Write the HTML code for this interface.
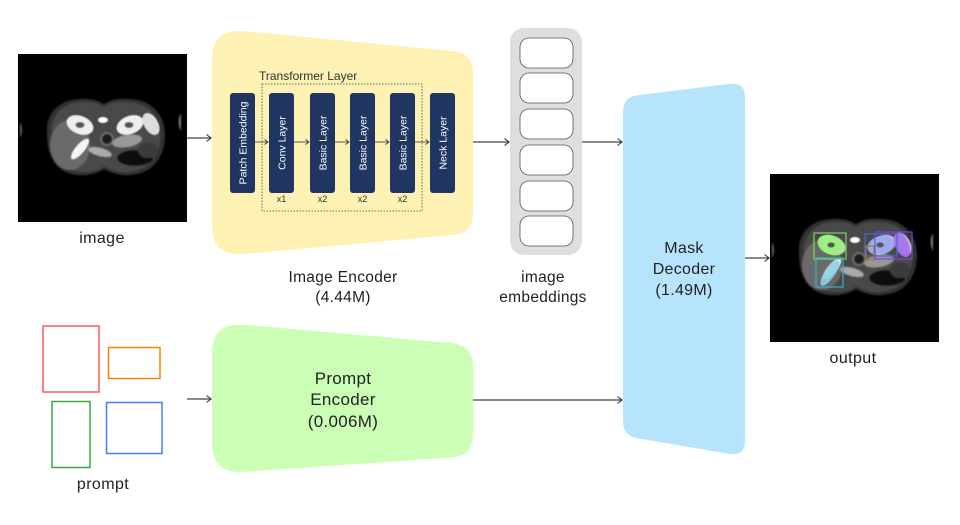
<!DOCTYPE html>
<html><head><meta charset="utf-8"><style>
html,body{margin:0;padding:0;background:#fff;}
svg{display:block;}
text{font-family:"Liberation Sans",Arial,sans-serif;}
</style></head><body>
<svg width="960" height="525" viewBox="0 0 960 525" xmlns="http://www.w3.org/2000/svg">
<defs>
<marker id="ah" markerWidth="8" markerHeight="10" refX="6" refY="4" orient="auto" markerUnits="userSpaceOnUse">
<path d="M1.5,0.5 L6,4 L1.5,7.5" fill="none" stroke="#333" stroke-width="1.1"/>
</marker>
<marker id="ahs" markerWidth="6" markerHeight="8" refX="4.5" refY="3" orient="auto" markerUnits="userSpaceOnUse">
<path d="M1,0.5 L4.5,3 L1,5.5" fill="none" stroke="#333" stroke-width="0.8"/>
</marker>
<filter id="bl" x="-10%" y="-10%" width="120%" height="120%"><feGaussianBlur stdDeviation="0.9"/></filter>
<filter id="bl2" x="-20%" y="-20%" width="140%" height="140%"><feGaussianBlur stdDeviation="0.6"/></filter>
<g id="mri">
<rect x="18" y="54" width="169" height="168" fill="#000"/>
<g filter="url(#bl)">
<path d="M47,135 C45,112 60,100 80,99 C92,98 98,101 104,104 C110,100 118,98 130,99 C152,100 165,115 165,135 C165,158 152,174 130,175 C118,176 110,172 104,169 C98,173 88,176 78,175 C58,174 47,158 47,135 Z" fill="#333"/>
<path d="M47,135 C45,112 60,100 80,99 C92,98 98,101 104,104 C110,100 118,98 130,99 C152,100 165,115 165,135 C165,158 152,174 130,175 C118,176 110,172 104,169 C98,173 88,176 78,175 C58,174 47,158 47,135 Z" fill="#484848" transform="translate(106,137) scale(0.92) translate(-106,-137)"/>
<ellipse cx="70" cy="145" rx="20" ry="25" fill="#6a6a6a"/>
<ellipse cx="135" cy="158" rx="18" ry="8" fill="#111"/>
<ellipse cx="127" cy="141" rx="15" ry="6" fill="#999" transform="rotate(-10 127 141)"/>
<ellipse cx="100" cy="152" rx="12" ry="4" fill="#aaa" transform="rotate(15 100 152)"/>
<circle cx="107" cy="139" r="6" fill="#1a1a1a" stroke="#777" stroke-width="1.5"/>
<ellipse cx="148" cy="150" rx="10" ry="8" fill="#3a3a3a"/>
<path d="M20,122 q4,8 0,16 z" fill="#666"/>
<path d="M181,113 q-5,9 0,18 z" fill="#777"/>
</g>
<g filter="url(#bl2)">
<ellipse cx="80" cy="125" rx="14" ry="9" fill="#eee" transform="rotate(22 80 125)"/>
<ellipse cx="130" cy="125" rx="14" ry="9" fill="#eee" transform="rotate(-22 130 125)"/>
<ellipse cx="80" cy="125" rx="4.5" ry="3" fill="#555"/>
<ellipse cx="129" cy="125" rx="4.5" ry="3" fill="#555"/>
<ellipse cx="151" cy="124" rx="7" ry="12" fill="#ddd" transform="rotate(-30 151 124)"/>
<ellipse cx="103" cy="120" rx="5" ry="3" fill="#fff"/>
<ellipse cx="80" cy="149" rx="13" ry="4.5" fill="#f4f4f4" transform="rotate(-50 80 149)"/>
</g>
</g>
</defs>

<!-- input image -->
<use href="#mri"/>
<text x="102" y="243" font-size="16" text-anchor="middle" fill="#222" letter-spacing="0.4">image</text>

<!-- image encoder -->
<path d="M212,60 Q212,28 244,31.1 L453,51.1 Q473,53 473,73 L473,213 Q473,233 453,235 L244,254 Q212,257 212,225 Z" fill="#fdf1b3"/>
<text x="259" y="80" font-size="12" fill="#333">Transformer Layer</text>
<rect x="262" y="84" width="160" height="127" fill="none" stroke="#444" stroke-width="0.8" stroke-dasharray="1.5,1.5"/>
<g fill="#1f3562">
<rect x="230" y="93" width="25" height="100" rx="3"/>
<rect x="269" y="93" width="25" height="100" rx="3"/>
<rect x="310" y="93" width="25" height="100" rx="3"/>
<rect x="350" y="93" width="25" height="100" rx="3"/>
<rect x="390" y="93" width="25" height="100" rx="3"/>
<rect x="430" y="93" width="25" height="100" rx="3"/>
</g>
<g stroke="#333" stroke-width="0.8" marker-end="url(#ahs)">
<line x1="255" y1="142" x2="268" y2="142"/>
<line x1="294" y1="142" x2="309" y2="142"/>
<line x1="335" y1="142" x2="349" y2="142"/>
<line x1="375" y1="142" x2="389" y2="142"/>
<line x1="415" y1="142" x2="429" y2="142"/>
</g>
<g fill="#fff" font-size="10.5" text-anchor="middle">
<text transform="translate(246.3,143) rotate(-90)">Patch Embedding</text>
<text transform="translate(285.3,143) rotate(-90)">Conv Layer</text>
<text transform="translate(326.3,143) rotate(-90)">Basic Layer</text>
<text transform="translate(366.3,143) rotate(-90)">Basic Layer</text>
<text transform="translate(406.3,143) rotate(-90)">Basic Layer</text>
<text transform="translate(446.3,143) rotate(-90)">Neck Layer</text>
</g>
<g fill="#333" font-size="9" text-anchor="middle">
<text x="281.5" y="202">x1</text>
<text x="322.5" y="202">x2</text>
<text x="362.5" y="202">x2</text>
<text x="402.5" y="202">x2</text>
</g>
<text x="343" y="282" font-size="15.5" text-anchor="middle" fill="#222" letter-spacing="0.3">Image Encoder</text>
<text x="343" y="302" font-size="15.5" text-anchor="middle" fill="#222" letter-spacing="0.3">(4.44M)</text>

<!-- embeddings -->
<rect x="510" y="28" width="72" height="227" rx="14" fill="#dedede"/>
<g fill="#fff" stroke="#555" stroke-width="0.8">
<rect x="520" y="38" width="53" height="30" rx="9"/>
<rect x="520" y="73" width="53" height="30" rx="9"/>
<rect x="520" y="109" width="53" height="30" rx="9"/>
<rect x="520" y="145" width="53" height="30" rx="9"/>
<rect x="520" y="181" width="53" height="30" rx="9"/>
<rect x="520" y="216" width="53" height="30" rx="9"/>
</g>
<text x="543" y="282" font-size="15.5" text-anchor="middle" fill="#222" letter-spacing="0.3">image</text>
<text x="543" y="302" font-size="15.5" text-anchor="middle" fill="#222" letter-spacing="0.3">embeddings</text>

<!-- mask decoder -->
<path d="M623,112 Q623,97 638,95.2 L730,83.8 Q745,82 745,97 L745,441 Q745,456 730,454 L638,438.4 Q623,436 623,421 Z" fill="#b6e4fd"/>
<text x="684" y="253" font-size="16" text-anchor="middle" fill="#222" letter-spacing="0.3">Mask</text>
<text x="684" y="274" font-size="16" text-anchor="middle" fill="#222" letter-spacing="0.3">Decoder</text>
<text x="684" y="295" font-size="16" text-anchor="middle" fill="#222" letter-spacing="0.3">(1.49M)</text>

<!-- prompt encoder -->
<path d="M212,354 Q212,322 244,324.8 L451,343 Q473,345 473,367 L473,434 Q473,456 451,457.5 L244,471.8 Q212,474 212,442 Z" fill="#ccffb6"/>
<text x="343" y="384" font-size="17" text-anchor="middle" fill="#222" letter-spacing="0.3">Prompt</text>
<text x="343" y="405" font-size="17" text-anchor="middle" fill="#222" letter-spacing="0.3">Encoder</text>
<text x="343" y="427" font-size="17" text-anchor="middle" fill="#222" letter-spacing="0.3">(0.006M)</text>

<!-- prompts -->
<rect x="43" y="326" width="56" height="66" fill="none" stroke="#ff5a5a" stroke-width="1.5"/>
<rect x="108.5" y="347.5" width="51.5" height="31" fill="none" stroke="#ff8000" stroke-width="1.5"/>
<rect x="52" y="401.5" width="38" height="66" fill="none" stroke="#3aaa3a" stroke-width="1.5"/>
<rect x="106.5" y="402.5" width="55.5" height="51" fill="none" stroke="#4a7aff" stroke-width="1.5"/>
<text x="103" y="489" font-size="16" text-anchor="middle" fill="#222" letter-spacing="0.4">prompt</text>

<!-- output -->
<use href="#mri" transform="translate(752,120)"/>
<g opacity="0.9">
<ellipse cx="831" cy="245" rx="14" ry="9.5" fill="#95ee78" transform="rotate(22 831 245)"/>
<ellipse cx="830" cy="273" rx="15" ry="5" fill="#8fd0e6" transform="rotate(-55 830 273)"/>
<ellipse cx="881" cy="245" rx="14" ry="9" fill="#93a5ee" transform="rotate(-15 881 245)"/>
<ellipse cx="902" cy="245" rx="7" ry="13" fill="#a36ef2" transform="rotate(-25 902 245)"/>
</g>
<ellipse cx="831" cy="245" rx="3.5" ry="2.5" fill="#555"/>
<ellipse cx="880" cy="245" rx="3.5" ry="2.5" fill="#555"/>
<g fill="none" stroke-width="1.2">
<rect x="814" y="233" width="32" height="26" stroke="#78d858"/>
<rect x="816" y="258" width="27" height="29" stroke="#3ab0c8"/>
<rect x="865" y="234" width="32" height="22" stroke="#4e68c8"/>
<rect x="875" y="232" width="37" height="27" stroke="#7a44e0"/>
<rect x="866" y="246" width="8" height="14" stroke="#a07830"/>
</g>
<text x="853" y="363" font-size="16" text-anchor="middle" fill="#222" letter-spacing="0.4">output</text>

<!-- connectors -->
<g stroke="#444" stroke-width="1.2" fill="none" marker-end="url(#ah)">
<line x1="187" y1="138" x2="211" y2="138"/>
<line x1="473" y1="142" x2="509" y2="142"/>
<line x1="582" y1="142" x2="622" y2="142"/>
<line x1="745" y1="258" x2="769" y2="258"/>
<line x1="187" y1="399" x2="211" y2="399"/>
<line x1="473" y1="400" x2="622" y2="400"/>
</g>
</svg>
</body></html>
